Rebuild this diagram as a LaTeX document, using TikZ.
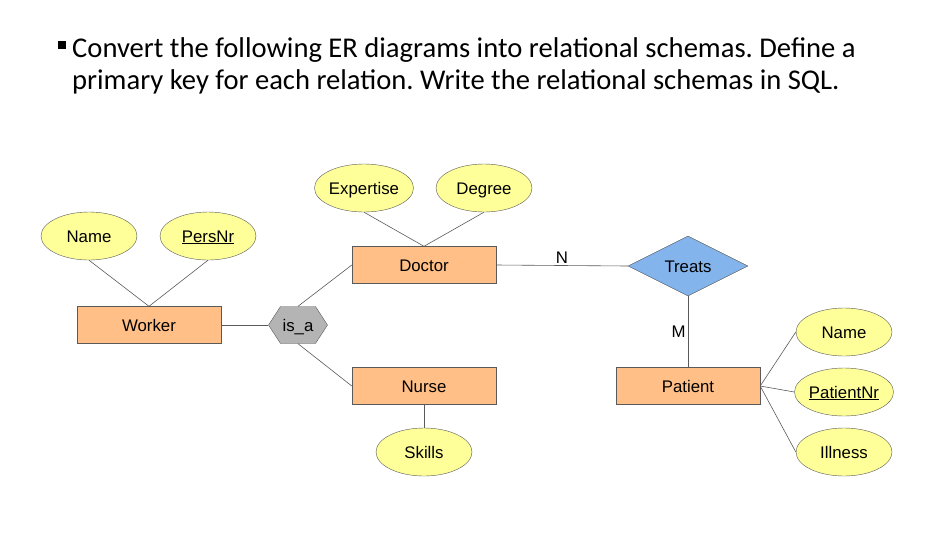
\documentclass[tikz,border=0pt]{standalone}
\usepackage{fontspec}
\setmainfont{Liberation Sans}
\newfontfamily\titlefont{Carlito}
\usetikzlibrary{positioning,shapes.geometric,shapes.symbols}
\frenchspacing

\definecolor{entfill}{RGB}{255,191,134}
\definecolor{attfill}{RGB}{255,255,153}
\definecolor{relfill}{RGB}{132,180,236}
\definecolor{isafill}{RGB}{180,180,180}
\definecolor{edge}{RGB}{90,90,90}

\begin{document}
\begin{tikzpicture}[
  x=1pt, y=-1pt,
  lbl/.style={font=\fontsize{16.8}{18}\selectfont, text height=12pt, text depth=0pt},
  entity/.style={lbl, draw=edge, fill=entfill, minimum width=144pt, minimum height=37pt, inner sep=0pt},
  attr/.style={lbl, draw=edge, fill=attfill, ellipse, minimum width=96pt, minimum height=48pt, inner sep=0pt},
  rel/.style={lbl, draw=edge, fill=relfill, diamond, minimum width=120pt, minimum height=60pt, inner sep=0pt},
  isa/.style={lbl, draw=edge, fill=isafill, signal, signal to=west and east, signal pointer angle=114, minimum width=59pt, minimum height=37pt, inner sep=0pt},
  link/.style={draw=edge, line width=0.6pt},
  card/.style={lbl, inner sep=2pt}
]
\useasboundingbox (0,0) rectangle (938,542);

% task text
\node[fill=black, minimum size=7.5pt, inner sep=0pt] (bullet) at (62,45) {};
\node[anchor=base west, inner sep=0pt, font=\titlefont\fontsize{28.6}{33}\selectfont] (title1) at (72,57) {Convert the following ER diagrams into relational schemas. Define a};
\node[anchor=base west, inner sep=0pt, font=\titlefont\fontsize{28.6}{33}\selectfont] (title2) at (72,89) {primary key for each relation. Write the relational schemas in SQL.};

% worker and specialisation
\node[entity] (worker) at (149,325) {Worker};
\node[attr] (wname) at (89,236) {Name};
\node[attr] (persnr) at (208,236) {\underline{PersNr}};
\node[isa] (isa) at (298,325) {is\_a};
\node[entity] (doctor) at (424,265) {Doctor};
\node[attr] (expertise) at (364,188) {Expertise};
\node[attr] (degree) at (484,188) {Degree};
\node[entity] (nurse) at (424,386) {Nurse};
\node[attr] (skills) at (424,452) {Skills};

% treats relationship
\node[rel] (treats) at (688,266) {Treats};
\node[entity] (patient) at (688,386) {Patient};
\node[attr] (pname) at (844,332) {Name};
\node[attr] (patientnr) at (844,392) {\underline{PatientNr}};
\node[attr] (illness) at (844,452) {Illness};

% connectors
\foreach \a in {wname,persnr}
  \draw[link] (\a.south) -- (worker.north);
\foreach \a in {expertise,degree}
  \draw[link] (\a.south) -- (doctor.north);
\draw[link] (worker.east) -- (isa.west);
\draw[link] (isa.north) -- (doctor.west);
\draw[link] (isa.south) -- (nurse.west);
\draw[link] (nurse.south) -- (skills.north);
\draw[link] (doctor.east) -- node[card, above, pos=0.5] (cardn) {N} (treats.west);
\draw[link] (treats.south) -- node[card, left, pos=0.5] (cardm) {M} (patient.north);
\foreach \a in {pname,patientnr,illness}
  \draw[link] (patient.east) -- (\a.west);

\end{tikzpicture}
\end{document}
